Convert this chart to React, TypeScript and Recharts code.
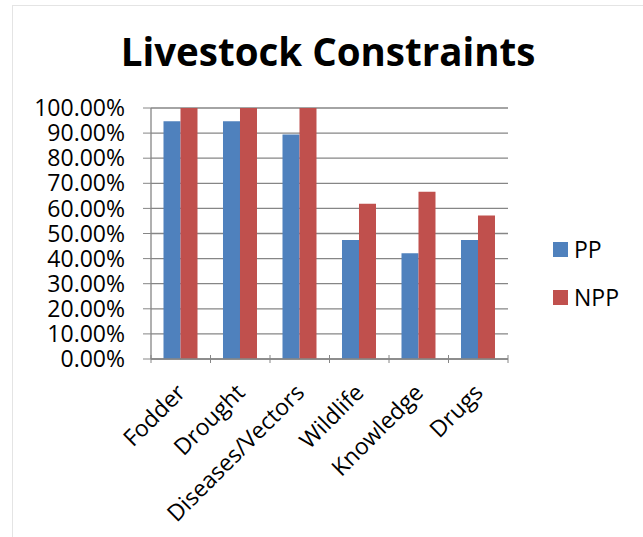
import { BarChart, Bar, XAxis, YAxis, CartesianGrid } from 'recharts';

const CATEGORIES = ['Fodder', 'Drought', 'Diseases/Vectors', 'Wildlife', 'Knowledge', 'Drugs'];
const PP = [0.9474, 0.9474, 0.8947, 0.4737, 0.4211, 0.4737];
const NPP = [1, 1, 1, 0.619, 0.6667, 0.5714];
const Y_TICKS = [0, 0.1, 0.2, 0.3, 0.4, 0.5, 0.6, 0.7, 0.8, 0.9, 1];

const SERIES = [
  { key: 'PP', color: '#4F81BD' },
  { key: 'NPP', color: '#C0504D' },
];

const data = CATEGORIES.map((name, i) => ({ name, PP: PP[i], NPP: NPP[i] }));

const FONT = '"Open Sans", sans-serif';
const AXIS = '#868686';

// category ticks: Excel puts the tick marks between categories
const CategoryTick = (props: any) => {
  const { x, y, payload, width, visibleTicksCount, index } = props;
  const step = width / visibleTicksCount;
  return (
    <g>
      <line x1={x - step / 2} x2={x - step / 2} y1={y - 12} y2={y - 4} stroke={AXIS} />
      {index === visibleTicksCount - 1 && (
        <line x1={x + step / 2} x2={x + step / 2} y1={y - 12} y2={y - 4} stroke={AXIS} />
      )}
      <text
        x={0}
        y={0}
        transform={`translate(${x + 6},${y + 27}) rotate(-45)`}
        textAnchor="end"
        fontSize={23}
        fontFamily={FONT}
        fill="#000"
      >
        {payload.value}
      </text>
    </g>
  );
};

export default function App() {
  return (
    <div style={{ position: 'absolute', left: 0, top: 0, width: 643, height: 537, overflow: 'hidden', background: '#fff' }}>
      <div
        style={{
          position: 'absolute',
          left: 12,
          top: 5,
          width: 700,
          height: 600,
          border: '1px solid #e4e4e4',
        }}
      />
      <div
        style={{
          position: 'absolute',
          left: 0,
          width: 656,
          top: 25,
          textAlign: 'center',
          fontFamily: FONT,
          fontWeight: 700,
          fontSize: 38.5,
          color: '#000',
        }}
      >
        Livestock Constraints
      </div>
      <div style={{ position: 'absolute', left: 0, top: 0 }}>
        <BarChart
          width={643}
          height={537}
          data={data}
          margin={{ top: 108, right: 135, left: 0, bottom: 0 }}
          barGap={0}
          barCategoryGap="21%"
        >
          <CartesianGrid vertical={false} stroke={AXIS} strokeWidth={1.3} />
          <XAxis
            dataKey="name"
            height={178}
            interval={0}
            axisLine={{ stroke: AXIS, strokeWidth: 1.3 }}
            tickLine={false}
            tick={<CategoryTick />}
          />
          <YAxis
            width={151}
            domain={[0, 1]}
            ticks={Y_TICKS}
            interval={0}
            tickFormatter={(v: number) => `${(v * 100).toFixed(2)}%`}
            axisLine={{ stroke: AXIS, strokeWidth: 1.3 }}
            tickLine={{ stroke: AXIS }}
            tickSize={8}
            tickMargin={18}
            tick={{ fontSize: 23, fontFamily: FONT, fill: '#000' }}
          />
          {SERIES.map((s) => (
            <Bar key={s.key} dataKey={s.key} fill={s.color} isAnimationActive={false} />
          ))}
        </BarChart>
      </div>
      {SERIES.map((s, i) => (
        <div
          key={s.key}
          style={{
            position: 'absolute',
            left: 553,
            top: 233 + i * 48,
            display: 'flex',
            alignItems: 'center',
            fontFamily: FONT,
            fontSize: 23,
            color: '#000',
          }}
        >
          <span style={{ display: 'inline-block', width: 15, height: 15, background: s.color, marginRight: 6 }} />
          {s.key}
        </div>
      ))}
    </div>
  );
}
